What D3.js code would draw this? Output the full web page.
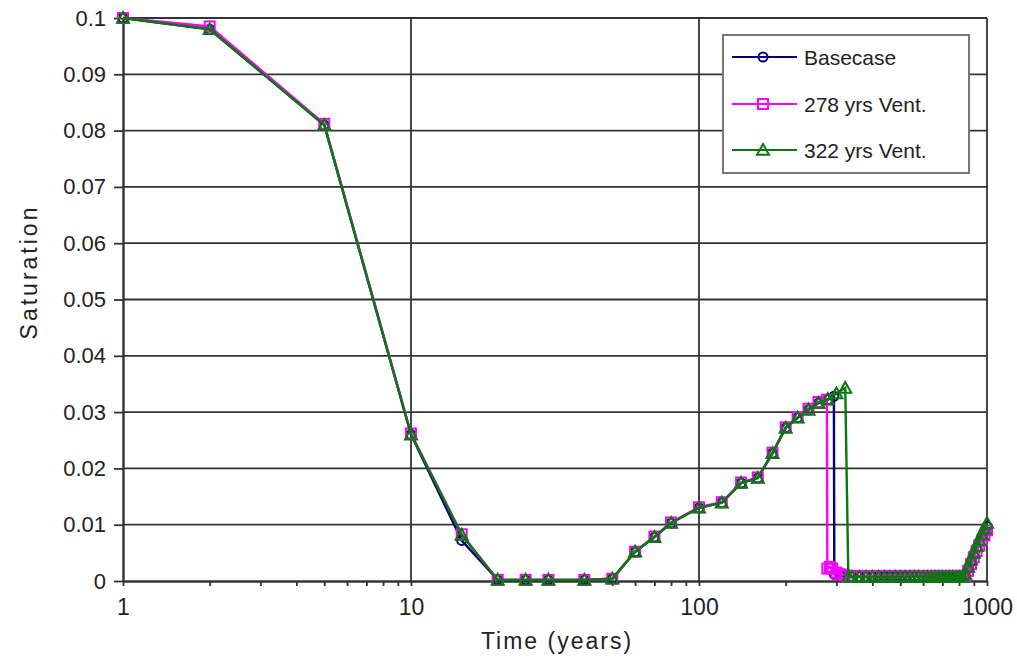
<!DOCTYPE html>
<html>
<head>
<meta charset="utf-8">
<script src="https://cdn.jsdelivr.net/npm/d3@7"></script>
<style>
  html, body { margin: 0; padding: 0; background: #fff; }
  svg { display: block; }
  text { font-family: Arial, "Liberation Sans", Helvetica, sans-serif; fill: #222; }
</style>
</head>
<body>
<svg id="chart" width="1017" height="663"></svg>
<script>
// ---------- DATA ----------
const seriesNames = ["Basecase", "278 yrs Vent.", "322 yrs Vent."];

// shared early phase (1 - 260 years)
const earlyYears   = [1, 2, 5, 10, 15, 20, 25, 30, 40, 50, 60, 70, 80, 100, 120, 140, 160, 180, 200, 220, 240, 260];
const earlyBase    = [0.1, 0.098, 0.081, 0.026, 0.0072, 0.0002, 0.0002, 0.0002, 0.0002, 0.0004, 0.0052, 0.0078, 0.0103, 0.013, 0.0139, 0.0174, 0.0183, 0.0227, 0.0272, 0.029, 0.0304, 0.0316];
const early278     = [0.1, 0.0985, 0.0812, 0.0262, 0.0083, 0.0002, 0.0002, 0.0002, 0.0002, 0.0004, 0.0052, 0.0079, 0.0104, 0.0131, 0.014, 0.0175, 0.0184, 0.0228, 0.0273, 0.0291, 0.0306, 0.0318];
const early322     = [0.1, 0.098, 0.081, 0.026, 0.0082, 0.0002, 0.0002, 0.0002, 0.0002, 0.0004, 0.0052, 0.0078, 0.0103, 0.013, 0.0139, 0.0174, 0.0183, 0.0227, 0.0272, 0.029, 0.0304, 0.0316];

// venting / drop phase (each series differs)
const dropYearsBase = [280, 294, 295, 310, 320];
const dropBase      = [0.0322, 0.0328, 0.0012, 0.0009, 0.0008];
const dropYears278  = [278, 279, 285, 290, 300, 310, 320];
const drop278       = [0.0322, 0.0022, 0.0025, 0.0022, 0.0015, 0.0012, 0.001];
const dropYears322  = [280, 300, 322, 330];
const drop322       = [0.0323, 0.0333, 0.0343, 0.0008];

// flat phase
const flatYears = [340, 360, 380, 400, 420, 440, 460, 480, 500, 520, 540, 560, 580, 600, 620, 640, 660, 680, 700, 720, 740, 760, 780, 800, 820];
const flatBase  = [0.0008, 0.0008, 0.0008, 0.0008, 0.0008, 0.0008, 0.0008, 0.0008, 0.0008, 0.0008, 0.0008, 0.0008, 0.0008, 0.0008, 0.0008, 0.0008, 0.0008, 0.0008, 0.0008, 0.0008, 0.0008, 0.0008, 0.0008, 0.0008, 0.0008];
const flat278   = [0.0009, 0.0009, 0.0009, 0.0009, 0.0009, 0.0009, 0.0009, 0.0009, 0.0009, 0.0009, 0.0009, 0.0009, 0.0009, 0.0009, 0.0009, 0.0009, 0.0009, 0.0009, 0.0009, 0.0009, 0.0009, 0.0009, 0.0009, 0.0009, 0.0009];
const flat322   = [0.0007, 0.0007, 0.0007, 0.0007, 0.0007, 0.0007, 0.0007, 0.0007, 0.0007, 0.0007, 0.0007, 0.0007, 0.0007, 0.0007, 0.0007, 0.0007, 0.0007, 0.0007, 0.0007, 0.0007, 0.0007, 0.0007, 0.0007, 0.0007, 0.0007];

// late rise
const riseYears = [840, 860, 880, 900, 920, 940, 960, 980, 1000];
const riseBase  = [0.001, 0.0022, 0.0034, 0.0046, 0.0058, 0.0069, 0.0079, 0.0088, 0.0097];
const rise278   = [0.0009, 0.0018, 0.003, 0.0042, 0.0053, 0.0063, 0.0072, 0.0081, 0.009];
const rise322   = [0.0012, 0.0025, 0.0038, 0.005, 0.0062, 0.0073, 0.0083, 0.0093, 0.0103];

// axes
const yTicks      = [0, 0.01, 0.02, 0.03, 0.04, 0.05, 0.06, 0.07, 0.08, 0.09, 0.1];
const yTickLabels = ["0", "0.01", "0.02", "0.03", "0.04", "0.05", "0.06", "0.07", "0.08", "0.09", "0.1"];
const xMajor      = [1, 10, 100, 1000];
const xTickLabels = ["1", "10", "100", "1000"];
const xMinor      = [2, 3, 4, 5, 6, 7, 8, 9, 20, 30, 40, 50, 60, 70, 80, 90, 200, 300, 400, 500, 600, 700, 800, 900];

// ---------- BUILD ----------
function zip(xs, ys) { return xs.map((v, i) => [v, ys[i]]); }
const series = [
  { name: seriesNames[0], color: "#000080", marker: "circle",
    pts: zip(earlyYears, earlyBase).concat(zip(dropYearsBase, dropBase), zip(flatYears, flatBase), zip(riseYears, riseBase)) },
  { name: seriesNames[1], color: "#ff00ff", marker: "square",
    pts: zip(earlyYears, early278).concat(zip(dropYears278, drop278), zip(flatYears, flat278), zip(riseYears, rise278)) },
  { name: seriesNames[2], color: "#0b780b", marker: "triangle",
    pts: zip(earlyYears, early322).concat(zip(dropYears322, drop322), zip(flatYears, flat322), zip(riseYears, rise322)) }
];

const svg = d3.select("#chart");
const x = d3.scaleLog().domain([1, 1000]).range([123, 987]);
const y = d3.scaleLinear().domain([0, 0.1]).range([581, 18]);

// gridlines
const grid = svg.append("g");
grid.selectAll("line.h").data(yTicks.filter(d => d > 0)).join("line")
  .attr("x1", x(1)).attr("x2", x(1000))
  .attr("y1", d => y(d)).attr("y2", d => y(d))
  .attr("stroke", "#333").attr("stroke-width", 1.8);
grid.selectAll("line.v").data(xMajor.filter(d => d > 1)).join("line")
  .attr("x1", d => x(d)).attr("x2", d => x(d))
  .attr("y1", y(0.1)).attr("y2", y(0))
  .attr("stroke", "#333").attr("stroke-width", 1.8);

// y axis
const yAxis = svg.append("g").attr("transform", `translate(${x(1)},0)`)
  .call(d3.axisLeft(y).tickValues(yTicks).tickSize(9).tickSizeOuter(0).tickPadding(8)
    .tickFormat((d, i) => yTickLabels[i]));
yAxis.select(".domain").attr("stroke", "#333").attr("stroke-width", 2.4);
yAxis.selectAll(".tick line").attr("stroke", "#333").attr("stroke-width", 1.8);
yAxis.selectAll(".tick text").style("font-size", "22px").attr("fill", "#222")
  .attr("font-family", "Arial, 'Liberation Sans', sans-serif");

// x axis
const xAll = xMajor.concat(xMinor).sort((a, b) => a - b);
const xAxis = svg.append("g").attr("transform", `translate(0,${y(0)})`)
  .call(d3.axisBottom(x).tickValues(xAll).tickSize(5).tickSizeOuter(0).tickPadding(13)
    .tickFormat(d => { const i = xMajor.indexOf(d); return i >= 0 ? xTickLabels[i] : ""; }));
xAxis.select(".domain").attr("stroke", "#333").attr("stroke-width", 2.4);
xAxis.selectAll(".tick line").attr("stroke", "#333").attr("stroke-width", 1.8);
xAxis.selectAll(".tick text").style("font-size", "23px").attr("fill", "#222")
  .attr("font-family", "Arial, 'Liberation Sans', sans-serif");

// titles
svg.append("text").attr("x", 557).attr("y", 649).attr("text-anchor", "middle")
  .style("font-size", "23px").style("letter-spacing", "2px").text("Time (years)");
svg.append("text").attr("transform", "translate(37,272) rotate(-90)").attr("text-anchor", "middle")
  .style("font-size", "23px").style("letter-spacing", "3px").text("Saturation");

// markers
function drawMarker(g, type, color, cx, cy) {
  if (type === "circle") {
    g.append("circle").attr("cx", cx).attr("cy", cy).attr("r", 4.5)
      .attr("fill", "none").attr("stroke", color).attr("stroke-width", 2);
  } else if (type === "square") {
    g.append("rect").attr("x", cx - 5).attr("y", cy - 5).attr("width", 10).attr("height", 10)
      .attr("fill", "none").attr("stroke", color).attr("stroke-width", 2);
  } else {
    const s = 6;
    g.append("path").attr("d", `M${cx},${cy - s}L${cx + s},${cy + s * 0.8}L${cx - s},${cy + s * 0.8}Z`)
      .attr("fill", "none").attr("stroke", color).attr("stroke-width", 2);
  }
}

const line = d3.line().x(d => x(d[0])).y(d => y(d[1]));
series.forEach(s => {
  const g = svg.append("g");
  g.append("path").datum(s.pts).attr("d", line)
    .attr("fill", "none").attr("stroke", s.color).attr("stroke-width", 2.4);
  s.pts.forEach(p => drawMarker(g, s.marker, s.color, x(p[0]), y(p[1])));
});

// legend
const lg = svg.append("g");
lg.append("rect").attr("x", 723).attr("y", 35).attr("width", 246).attr("height", 138)
  .attr("fill", "#fff").attr("stroke", "#777").attr("stroke-width", 2);
const legendY = [57, 104, 150];
series.forEach((s, i) => {
  const ly = legendY[i];
  lg.append("line").attr("x1", 732).attr("x2", 797).attr("y1", ly).attr("y2", ly)
    .attr("stroke", s.color).attr("stroke-width", 2);
  drawMarker(lg, s.marker, s.color, 763, ly);
  lg.append("text").attr("x", 804).attr("y", ly + 8).style("font-size", "21px").text(s.name);
});
</script>
</body>
</html>
